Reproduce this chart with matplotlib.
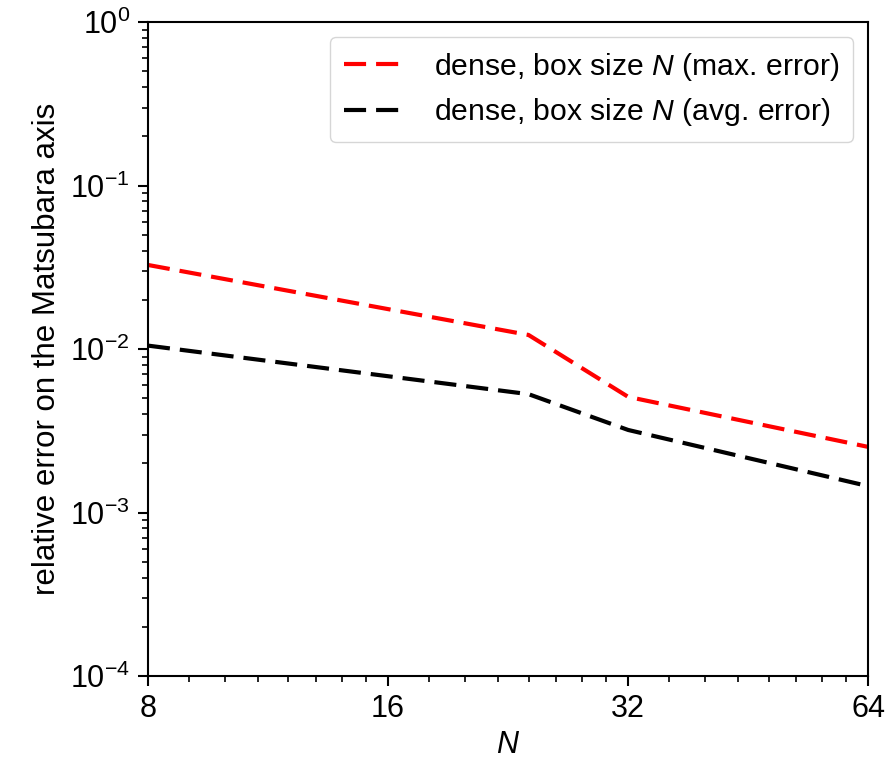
import numpy as np
import matplotlib.pyplot as plt
from matplotlib.ticker import FixedLocator, NullFormatter, LogLocator

plt.rcParams['font.family'] = ['Liberation Sans', 'DejaVu Sans']
plt.rcParams['mathtext.fontset'] = 'custom'
plt.rcParams['mathtext.rm'] = 'Liberation Sans'
plt.rcParams['mathtext.it'] = 'Liberation Sans:italic'

# box sizes N and relative errors
N = [8, 24, 32, 64]
max_err = [0.0327, 0.0122, 0.0051, 0.00252]
avg_err = [0.0105, 0.0053, 0.0032, 0.00145]

x_ticks = [8, 16, 32, 64]
x_minor = [9, 10, 11, 12, 13, 14, 15,
           18, 20, 22, 24, 26, 28, 30,
           36, 40, 44, 48, 52, 56, 60]

fig = plt.figure(figsize=(8.86, 7.63), dpi=100)
ax = fig.add_axes([0.167, 0.114, 0.813, 0.857])

ax.plot(N, max_err, color="red", lw=3, dashes=(5.3, 2.4),
        label=r"dense, box size $N$ (max. error)")
ax.plot(N, avg_err, color="black", lw=3, dashes=(5.3, 2.4),
        label=r"dense, box size $N$ (avg. error)")

ax.set_xscale("log", base=2)
ax.set_yscale("log")
ax.set_xlim(8, 64)
ax.set_ylim(1e-4, 1e0)

ax.xaxis.set_major_locator(FixedLocator(x_ticks))
ax.set_xticklabels([str(t) for t in x_ticks])
ax.xaxis.set_minor_locator(FixedLocator(x_minor))
ax.xaxis.set_minor_formatter(NullFormatter())
ax.yaxis.set_minor_locator(LogLocator(base=10, subs=np.arange(2, 10)))
ax.yaxis.set_minor_formatter(NullFormatter())

ax.tick_params(which="major", length=7, width=1.5, labelsize=22, pad=6)
ax.tick_params(which="minor", length=4, width=1.2)
for s in ax.spines.values():
    s.set_linewidth(1.5)

ax.set_xlabel(r"$N$", fontsize=22, labelpad=4)
ax.set_ylabel("relative error on the Matsubara axis", fontsize=22.5, labelpad=6)

ax.legend(loc="upper right", fontsize=21.7, handlelength=2.0,
          borderpad=0.45, labelspacing=0.45, handletextpad=1.0,
          borderaxespad=0.5)

fig.savefig("out.png", dpi=100)
